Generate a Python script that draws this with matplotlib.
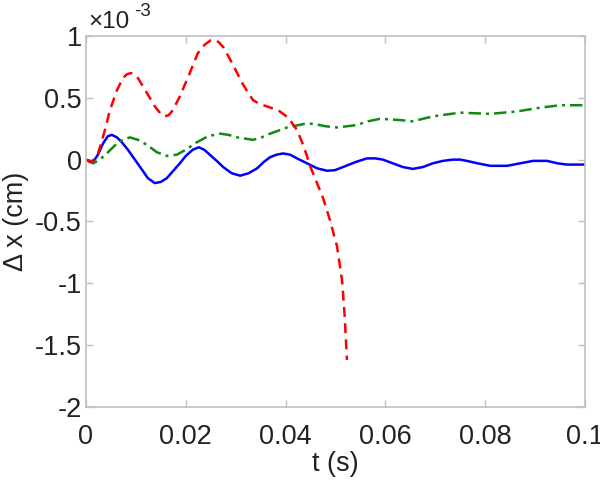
import matplotlib.pyplot as plt
from matplotlib.ticker import FuncFormatter

plt.rcParams['font.family'] = ['Liberation Sans', 'DejaVu Sans']

# values (y in units of 1e-3 cm)
t_blue = [0, 0.0008, 0.0014, 0.0024, 0.0034, 0.0044, 0.0052, 0.0062, 0.0072, 0.0084,
          0.0098, 0.0112, 0.0124, 0.0138, 0.0150, 0.0162, 0.0175, 0.0188, 0.0200,
          0.0214, 0.0226, 0.0237, 0.0248, 0.0262, 0.0275, 0.0292, 0.0309, 0.0326,
          0.0343, 0.0356, 0.0369, 0.0382, 0.0395, 0.0409, 0.0423, 0.0443, 0.0463,
          0.0483, 0.0499, 0.0515, 0.054, 0.0563, 0.058, 0.0595, 0.0615, 0.0635,
          0.0655, 0.0675, 0.0695, 0.0715, 0.0735, 0.075, 0.0763, 0.0785, 0.081,
          0.0844, 0.087, 0.0896, 0.0924, 0.0945, 0.0964, 0.1]
x_blue = [0, -0.01, -0.02, 0.04, 0.13, 0.19, 0.20, 0.18, 0.14, 0.08,
          0.0, -0.08, -0.15, -0.19, -0.18, -0.15, -0.09, -0.03, 0.03,
          0.08, 0.10, 0.08, 0.04, -0.01, -0.06, -0.11, -0.13, -0.11,
          -0.07, -0.02, 0.02, 0.04, 0.05, 0.04, 0.01, -0.03, -0.07,
          -0.09, -0.085, -0.06, -0.02, 0.01, 0.01, 0.0, -0.03, -0.06,
          -0.075, -0.06, -0.03, -0.01, 0.0, 0.0, -0.01, -0.03, -0.05,
          -0.05, -0.03, -0.01, -0.01, -0.03, -0.04, -0.04]

t_green = [0, 0.0014, 0.0028, 0.0044, 0.0062, 0.0074, 0.0088, 0.0104, 0.0122, 0.0142,
           0.0162, 0.0182, 0.0200, 0.0222, 0.0245, 0.0269, 0.0286, 0.0303, 0.0335,
           0.0352, 0.0369, 0.0403, 0.0439, 0.0455, 0.048, 0.0503, 0.0543, 0.0565,
           0.0589, 0.0629, 0.0655, 0.0695, 0.075, 0.081, 0.0864, 0.091, 0.095, 0.1]
x_green = [0, -0.03, 0.0, 0.06, 0.13, 0.16, 0.18, 0.16, 0.12, 0.06,
           0.03, 0.04, 0.08, 0.14, 0.19, 0.21, 0.20, 0.18, 0.16,
           0.18, 0.21, 0.26, 0.29, 0.29, 0.27, 0.26, 0.28, 0.31,
           0.33, 0.32, 0.31, 0.35, 0.38, 0.37, 0.39, 0.42, 0.44, 0.44]

t_red = [0, 0.0008, 0.0016, 0.0024, 0.0031, 0.0038, 0.0048, 0.0062, 0.0074, 0.0082,
         0.0090, 0.0097, 0.0104, 0.0113, 0.0122, 0.0138, 0.0150, 0.0158, 0.0166,
         0.0174, 0.0188, 0.0208, 0.0224, 0.0238, 0.0250, 0.0257, 0.0266, 0.0275,
         0.0293, 0.0313, 0.0325, 0.0335, 0.0348, 0.0363, 0.0385, 0.0405, 0.0423,
         0.0437, 0.0449, 0.0463, 0.0475, 0.0489, 0.0503, 0.0513, 0.0518, 0.0523]
x_red = [0, -0.02, 0.0, 0.05, 0.14, 0.24, 0.40, 0.56, 0.66, 0.69,
         0.70, 0.69, 0.66, 0.60, 0.54, 0.43, 0.37, 0.35, 0.36,
         0.40, 0.51, 0.70, 0.86, 0.93, 0.965, 0.97, 0.95, 0.91,
         0.78, 0.62, 0.54, 0.48, 0.45, 0.43, 0.40, 0.34, 0.24,
         0.10, -0.05, -0.19, -0.31, -0.49, -0.70, -0.97, -1.24, -1.62]

scale = 1e-3

fig = plt.figure(figsize=(6, 4.86), dpi=100)
ax = fig.add_axes([0.1433, 0.1626, 0.8317, 0.7634])

ax.plot(t_blue, [v * scale for v in x_blue], '-', color='blue', lw=1.8)
ax.plot(t_green, [v * scale for v in x_green], '-.', color='#118a11', lw=1.8,
        dashes=(5, 2, 1.2, 2))
ax.plot(t_red, [v * scale for v in x_red], '--', color='red', lw=1.8,
        dashes=(4, 2.5))

ax.set_xlim(0, 0.1)
ax.set_ylim(-2e-3, 1e-3)
ax.set_xticks([0, 0.02, 0.04, 0.06, 0.08, 0.1])
ax.set_xticklabels(['0', '0.02', '0.04', '0.06', '0.08', '0.1'])
ax.set_yticks([-2e-3, -1.5e-3, -1e-3, -0.5e-3, 0, 0.5e-3, 1e-3])
ax.yaxis.set_major_formatter(FuncFormatter(lambda v, p: f'{v / scale:g}'))

for s in ax.spines.values():
    s.set_color('#c0c0c0')
    s.set_linewidth(1.2)
ax.tick_params(direction='in', length=5, width=1, color='#c0c0c0',
               top=True, right=True, labelsize=19.5, labelcolor='#222222')
ax.tick_params(axis='x', pad=12)
ax.tick_params(axis='y', pad=3)

ax.set_xlabel('t (s)', fontsize=19.5, color='#222222', labelpad=1)
ax.set_ylabel('Δ x (cm)', fontsize=19.5, color='#222222', labelpad=4)

# MATLAB-style exponent label
fig.text(88 / 600, 1 - 28 / 486, '×10', fontsize=17.5, color='#222222',
         ha='left', va='baseline')
fig.text(134 / 600, 1 - 16 / 486, '-3', fontsize=13.5, color='#222222',
         ha='left', va='baseline')

fig.savefig('out.png', dpi=100)
